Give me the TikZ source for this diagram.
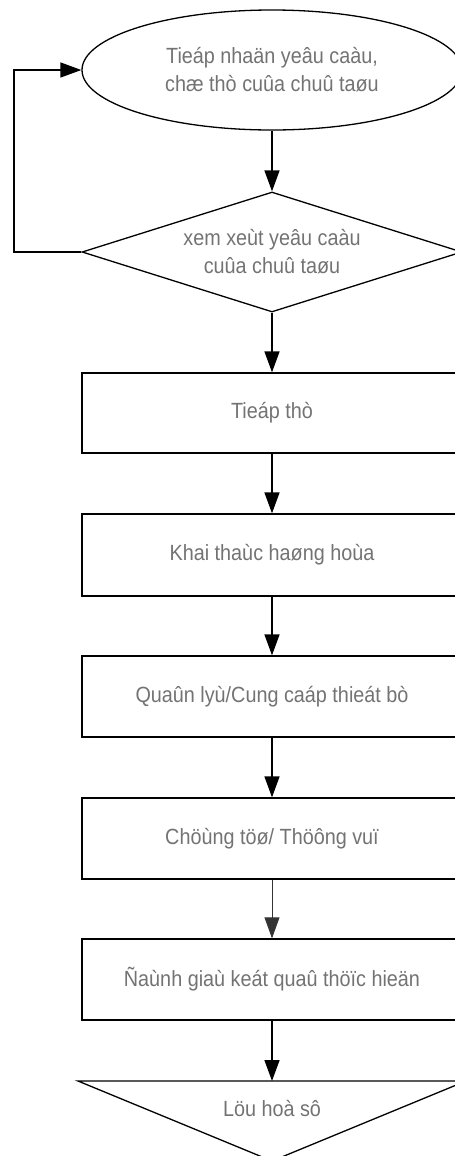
\documentclass[tikz,border=0pt]{standalone}
\usepackage{fontspec}
\setmainfont{Liberation Sans}[FakeStretch=0.9]
\usetikzlibrary{shapes.geometric,arrows.meta}
\definecolor{textgray}{rgb}{0.45,0.45,0.45}
\tikzset{
  lbl/.style={text=textgray, font=\fontsize{22bp}{28bp}\selectfont, align=center},
  boxnode/.style={draw=black, line width=1.3bp, minimum width=380bp, inner sep=0pt},
  arr/.style={line width=1.5bp, -{Triangle[length=21bp,width=15bp]}},
  thinarr/.style={line width=0.8bp, draw=black!80, -{Triangle[length=21bp,width=15bp]}},
}
\begin{document}
\begin{tikzpicture}[x=1bp,y=-1bp]
\clip (0,0) rectangle (455,1156);
\node[ellipse, boxnode, minimum height=120bp, lbl] (start) at (272,70) {Tieáp nhaän yeâu caàu,\\chæ thò cuûa chuû taøu};
\node[diamond, boxnode, minimum height=120bp, shape aspect=3.1667, lbl] (check) at (272,252) {xem xeùt yeâu caàu\\cuûa chuû taøu};
\node[rectangle, boxnode, minimum height=80bp, lbl] (b1) at (272,413) {Tieáp thò};
\node[rectangle, boxnode, minimum height=82bp, lbl] (b2) at (272,555) {Khai thaùc haøng hoùa};
\node[rectangle, boxnode, minimum height=81bp, lbl] (b3) at (272,696.5) {Quaûn lyù/Cung caáp thieát bò};
\node[rectangle, boxnode, minimum height=81bp, lbl] (b4) at (272,838.5) {Chöùng töø/ Thöông vuï};
\node[rectangle, boxnode, minimum height=81bp, lbl] (b5) at (272,979.5) {Ñaùnh giaù keát quaû thöïc hieän};
\coordinate (tl) at (78,1081);
\coordinate (tr) at (466,1081);
\coordinate (apex) at (272,1161);
\coordinate (ttop) at (272,1081);
\draw[line width=1.3bp, line join=miter] (tl) -- (tr) -- (apex) -- cycle;
\node[lbl] (store) at (272,1108) {Löu hoà sô};
\coordinate (loopb) at (14,252);
\coordinate (loopt) at (14,70);
\draw[arr] (check.west) -- (loopb) -- (loopt) -- (start.west);
\draw[arr] (start.south) -- (check.north);
\draw[arr] (check.south) -- (b1.north);
\draw[arr] (b1.south) -- (b2.north);
\draw[arr] (b2.south) -- (b3.north);
\draw[arr] (b3.south) -- (b4.north);
\draw[thinarr] (b4.south) -- (b5.north);
\draw[arr] (b5.south) -- (ttop);
\end{tikzpicture}
\end{document}
